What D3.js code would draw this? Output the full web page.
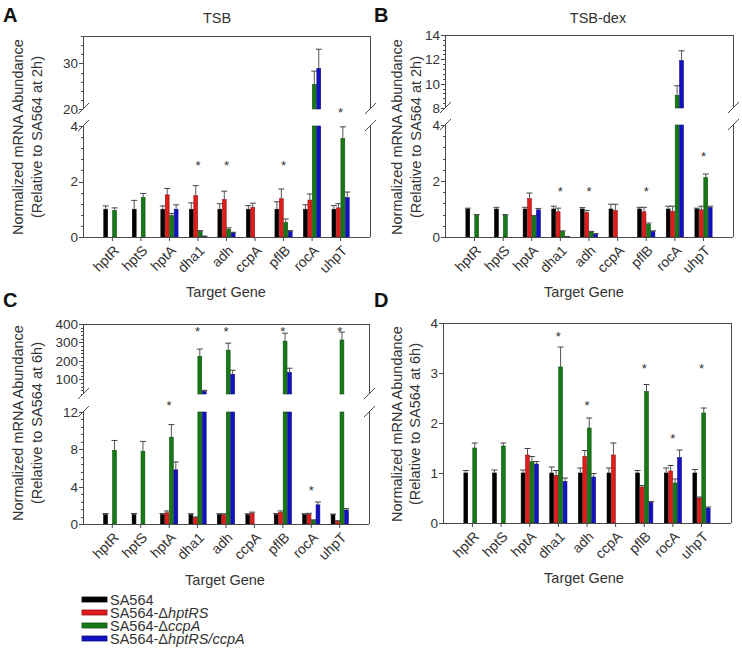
<!DOCTYPE html>
<html>
<head>
<meta charset="utf-8">
<script src="https://cdn.jsdelivr.net/npm/d3@7/dist/d3.min.js"></script>
<style>
  html, body { margin: 0; padding: 0; background: #fff; }
  svg { display: block; font-family: "Liberation Sans", Arial, Helvetica, sans-serif; }
</style>
</head>
<body>
<svg id="chart" width="742" height="651"></svg>
<script>
// ---------------- DATA ----------------
const genes = ["hptR", "hptS", "hptA", "dha1", "adh", "ccpA", "pflB", "rocA", "uhpT"];
const strainPrefix = ["SA564", "SA564-\u0394", "SA564-\u0394", "SA564-\u0394"];
const strainItalic = ["", "hptRS", "ccpA", "hptRS/ccpA"];
const strainColors = ["#000000", "#e31b1b", "#167a16", "#1212c4"];

// Panel A: TSB (relative to SA564 at 2h); order: SA564, dhptRS, dccpA, dhptRS/ccpA
const tsbMean = [
  [1.0, 1.0, 1.0, 1.0, 1.0, 1.0, 1.0, 1.0, 1.0],
  [null, null, 1.52, 1.49, 1.35, 1.06, 1.38, 1.33, 1.05],
  [0.95, 1.43, 0.78, 0.20, 0.28, null, 0.52, 25.4, 3.55],
  [null, null, 1.00, 0.03, 0.15, null, 0.20, 28.9, 1.42]
];
const tsbErr = [
  [0.12, 0.32, 0.12, 0.23, 0.20, 0.13, 0.27, 0.16, 0.13],
  [null, null, 0.23, 0.36, 0.30, 0.16, 0.35, 0.22, 0.15],
  [0.10, 0.14, 0.07, 0.03, 0.05, null, 0.13, 2.9, 0.42],
  [null, null, 0.16, 0.00, 0.02, null, 0.03, 4.2, 0.20]
];
const tsbStars = [null, null, null, 2.67, 2.67, null, 2.67, null, 4.58];
const tsbTicksLower = [0, 2, 4];
const tsbTicksUpper = [20, 30];

// Panel B: TSB-dex (relative to SA564 at 2h)
const dexMean = [
  [1.0, 1.0, 1.0, 1.0, 1.0, 1.0, 1.0, 1.0, 1.0],
  [null, null, 1.37, 0.90, 0.87, 0.94, 0.90, 0.92, 0.97],
  [0.78, 0.78, 0.75, 0.20, 0.18, null, 0.45, 9.05, 2.12],
  [null, null, 0.97, 0.02, 0.10, null, 0.20, 11.9, 1.05]
];
const dexErr = [
  [0.03, 0.06, 0.06, 0.10, 0.05, 0.17, 0.06, 0.10, 0.03],
  [null, null, 0.20, 0.13, 0.08, 0.23, 0.16, 0.18, 0.13],
  [0.02, 0.02, 0.02, 0.02, 0.02, null, 0.05, 0.78, 0.13],
  [null, null, 0.05, 0.00, 0.02, null, 0.02, 0.80, 0.05]
];
const dexStars = [null, null, null, 1.71, 1.71, null, 1.71, null, 2.96];
const dexTicksLower = [0, 2, 4];
const dexTicksUpper = [8, 10, 12, 14];

// Panel C: TSB (relative to SA564 at 6h)
const tsb6Mean = [
  [1.0, 1.0, 1.0, 1.0, 1.0, 1.0, 1.0, 1.0, 1.0],
  [null, null, 1.20, 0.70, 1.00, 1.15, 1.25, 1.05, 0.30],
  [7.9, 7.8, 9.3, 225, 258, null, 307, 0.40, 313],
  [null, null, 5.8, 35, 127, null, 138, 2.05, 1.50]
];
const tsb6Err = [
  [0.12, 0.12, 0.12, 0.10, 0.10, 0.10, 0.12, 0.10, 0.06],
  [null, null, 0.20, 0.05, 0.10, 0.12, 0.15, 0.10, 0.05],
  [1.05, 1.05, 1.35, 39, 38, null, 43, 0.05, 43],
  [null, null, 0.85, 5, 22, null, 22, 0.30, 0.15]
];
const tsb6Stars = [null, null, 13.0, 373, 373, null, 373, 3.85, 373];
const tsb6TicksLower = [0, 4, 8, 12];
const tsb6TicksUpper = [100, 200, 300, 400];

// Panel D: TSB-dex (relative to SA564 at 6h)
const dex6Mean = [
  [1.0, 1.0, 1.0, 1.0, 1.0, 1.0, 1.0, 1.0, 1.0],
  [null, null, 1.36, 0.95, 1.33, 1.36, 0.72, 1.04, 0.50],
  [1.50, 1.54, 1.23, 3.12, 1.90, null, 2.63, 0.80, 2.20],
  [null, null, 1.18, 0.83, 0.92, null, 0.41, 1.31, 0.30]
];
const dex6Err = [
  [0.05, 0.06, 0.06, 0.12, 0.10, 0.10, 0.05, 0.10, 0.07],
  [null, null, 0.13, 0.10, 0.12, 0.24, 0.03, 0.11, 0.02],
  [0.10, 0.06, 0.10, 0.40, 0.20, null, 0.14, 0.08, 0.10],
  [null, null, 0.05, 0.07, 0.07, null, 0.02, 0.15, 0.02]
];
const dex6Stars = [null, null, null, 3.79, 2.40, null, 3.15, 1.75, 3.15];
const dex6Ticks = [0, 1, 2, 3, 4];

// ---------------- LAYOUT ----------------
const panels = [
  { letter: "A", lx: 3, ly: 22, title: "TSB", tx: 217, ty: 23,
    left: 83, right: 370, top: 36, bottom: 237,
    mean: tsbMean, err: tsbErr, stars: tsbStars, ylab2: "(Relative to SA564 at 2h)",
    ylabX: [23, 42], ylabY: 137, xlabX: 226, xlabY: 297,
    segs: [ { lo: 0, hi: 4, r: [237, 126], ticks: tsbTicksLower, minor: 0.4 },
            { lo: 20, hi: 36, r: [109, 36], ticks: tsbTicksUpper, minor: 2 } ] },
  { letter: "B", lx: 374, ly: 22, title: "TSB-dex", tx: 598, ty: 23,
    left: 445, right: 733, top: 35, bottom: 237,
    mean: dexMean, err: dexErr, stars: dexStars, ylab2: "(Relative to SA564 at 2h)",
    ylabX: [402, 421], ylabY: 137, xlabX: 584, xlabY: 297,
    segs: [ { lo: 0, hi: 4, r: [237, 125], ticks: dexTicksLower, minor: 0.4 },
            { lo: 8, hi: 14, r: [108, 35], ticks: dexTicksUpper, minor: 0.4 } ] },
  { letter: "C", lx: 3, ly: 307, title: null,
    left: 83, right: 369, top: 324, bottom: 524,
    mean: tsb6Mean, err: tsb6Err, stars: tsb6Stars, ylab2: "(Relative to SA564 at 6h)",
    ylabX: [23, 42], ylabY: 423, xlabX: 225, xlabY: 585,
    segs: [ { lo: 0, hi: 12, r: [524, 412], ticks: tsb6TicksLower, minor: 0.8 },
            { lo: 20, hi: 400, r: [394, 324], ticks: tsb6TicksUpper, minor: 20 } ] },
  { letter: "D", lx: 374, ly: 307, title: null,
    left: 443, right: 731, top: 323, bottom: 523,
    mean: dex6Mean, err: dex6Err, stars: dex6Stars, ylab2: "(Relative to SA564 at 6h)",
    ylabX: [402, 420], ylabY: 424, xlabX: 584, xlabY: 583,
    segs: [ { lo: 0, hi: 4, r: [523, 323], ticks: dex6Ticks, minor: null } ] }
];

const svg = d3.select("#chart");
const axisColor = "#4a4a4a";
const textColor = "#333";

panels.forEach(p => {
  const g = svg.append("g");
  const x = d3.scalePoint().domain(genes).range([p.left, p.right]).padding(1.03);
  const sub = d3.scaleBand().domain(d3.range(4)).range([-8.6, 8.6]).paddingInner(0.14);
  p.segs.forEach(s => { s.y = d3.scaleLinear().domain([s.lo, s.hi]).range(s.r); });
  const broken = p.segs.length > 1;
  const lower = p.segs[0], upper = p.segs[1];

  // Bars
  p.mean.forEach((series, si) => {
    const col = strainColors[si];
    const edge = si === 0 ? "#000" : d3.color(col).darker(1.3).formatHex();
    series.forEach((v, gi) => {
      if (v == null) return;
      const bx = x(genes[gi]) + sub(si);
      const bw = sub.bandwidth();
      p.segs.forEach(s => {
        if (v <= s.lo && s.lo > 0) return;
        const top = Math.min(v, s.hi);
        const y0 = s.y(s.lo), y1 = s.y(top);
        g.append("rect").attr("x", bx).attr("y", y1).attr("width", bw)
          .attr("height", Math.max(0.8, y0 - y1))
          .attr("fill", col).attr("stroke", edge).attr("stroke-width", 0.6);
      });
      // error bar
      const e = p.err[si][gi];
      if (e == null) return;
      const s = p.segs.find(s => v >= s.lo && v <= s.hi) || lower;
      const cx = bx + bw / 2;
      const ya = s.y(v), yb = s.y(v + e);
      g.append("line").attr("x1", cx).attr("x2", cx).attr("y1", ya).attr("y2", yb)
        .attr("stroke", "#555").attr("stroke-width", 1);
      g.append("line").attr("x1", cx - 3).attr("x2", cx + 3).attr("y1", yb).attr("y2", yb)
        .attr("stroke", "#444").attr("stroke-width", 1);
    });
  });

  // Stars
  p.stars.forEach((sv, gi) => {
    if (sv == null) return;
    const s = (broken && sv >= upper.lo) ? upper : lower;
    g.append("text").attr("x", x(genes[gi])).attr("y", s.y(sv) + 7)
      .attr("text-anchor", "middle").attr("font-size", 13).attr("fill", textColor).text("*");
  });

  // Frame: bottom, top
  const line = (x1, y1, x2, y2) => g.append("line").attr("x1", x1).attr("y1", y1)
    .attr("x2", x2).attr("y2", y2).attr("stroke", axisColor).attr("stroke-width", 1);
  line(p.left, p.bottom + 0.5, p.right, p.bottom + 0.5);
  line(p.left, p.top + 0.5, p.right, p.top + 0.5);
  // Left and right axes (broken if two segments)
  [p.left, p.right].forEach(ax => {
    p.segs.forEach(s => line(ax + 0.5, s.r[0], ax + 0.5, s.r[1]));
    if (broken) {
      [lower.r[1], upper.r[0]].forEach(yy => {
        g.append("line").attr("x1", ax - 5).attr("y1", yy + 5).attr("x2", ax + 6).attr("y2", yy - 6)
          .attr("stroke", axisColor).attr("stroke-width", 1);
      });
    }
  });

  // Y ticks
  p.segs.forEach(s => {
    if (s.minor) {
      const n = Math.round((s.hi - s.lo) / s.minor);
      for (let i = 0; i <= n; i++) {
        const v = s.lo + i * s.minor;
        if (v > s.hi + 1e-9) break;
        g.append("line").attr("x1", p.left - 2).attr("x2", p.left)
          .attr("y1", Math.round(s.y(v)) + 0.5).attr("y2", Math.round(s.y(v)) + 0.5)
          .attr("stroke", axisColor).attr("stroke-width", 1);
      }
    }
    s.ticks.forEach(t => {
      const yy = s.y(t);
      g.append("line").attr("x1", p.left - 4).attr("x2", p.left)
        .attr("y1", Math.round(yy) + 0.5).attr("y2", Math.round(yy) + 0.5)
        .attr("stroke", axisColor).attr("stroke-width", 1);
      g.append("text").attr("x", p.left - 5).attr("y", yy).attr("dy", "0.36em")
        .attr("text-anchor", "end").attr("font-size", 13.5).attr("fill", textColor).text(t);
    });
  });

  // X ticks and labels
  genes.forEach(gn => {
    const cx = x(gn);
    g.append("line").attr("x1", cx).attr("x2", cx).attr("y1", p.bottom).attr("y2", p.bottom + 4)
      .attr("stroke", axisColor).attr("stroke-width", 1);
    g.append("text").attr("transform", `translate(${cx + 4},${p.bottom + 11}) rotate(-45)`)
      .attr("text-anchor", "end").attr("dy", "0.35em").attr("font-size", 14)
      .attr("fill", textColor).text(gn);
  });

  // Axis titles
  g.append("text").attr("x", p.xlabX).attr("y", p.xlabY).attr("text-anchor", "middle")
    .attr("font-size", 14.5).attr("fill", textColor).text("Target Gene");
  g.append("text").attr("transform", `translate(${p.ylabX[0]},${p.ylabY}) rotate(-90)`)
    .attr("text-anchor", "middle").attr("font-size", 14.5).attr("fill", textColor)
    .text("Normalized mRNA Abundance");
  g.append("text").attr("transform", `translate(${p.ylabX[1]},${p.ylabY}) rotate(-90)`)
    .attr("text-anchor", "middle").attr("font-size", 14.5).attr("fill", textColor)
    .text(p.ylab2);

  if (p.title) {
    g.append("text").attr("x", p.tx).attr("y", p.ty).attr("text-anchor", "middle")
      .attr("font-size", 14.5).attr("fill", textColor).text(p.title);
  }
  g.append("text").attr("x", p.lx).attr("y", p.ly).attr("font-size", 20)
    .attr("font-weight", "bold").attr("fill", "#111").text(p.letter);
});

// Legend
const leg = svg.append("g");
strainColors.forEach((c, i) => {
  const yy = 597 + i * 13;
  leg.append("rect").attr("x", 82).attr("y", yy).attr("width", 25).attr("height", 5)
    .attr("fill", c).attr("stroke", i === 0 ? "#000" : d3.color(c).darker(1.3).formatHex())
    .attr("stroke-width", 0.8);
  const t = leg.append("text").attr("x", 110).attr("y", yy + 8).attr("font-size", 14.5)
    .attr("fill", textColor);
  t.append("tspan").text(strainPrefix[i]);
  if (strainItalic[i]) t.append("tspan").attr("font-style", "italic").text(strainItalic[i]);
});
</script>
</body>
</html>
